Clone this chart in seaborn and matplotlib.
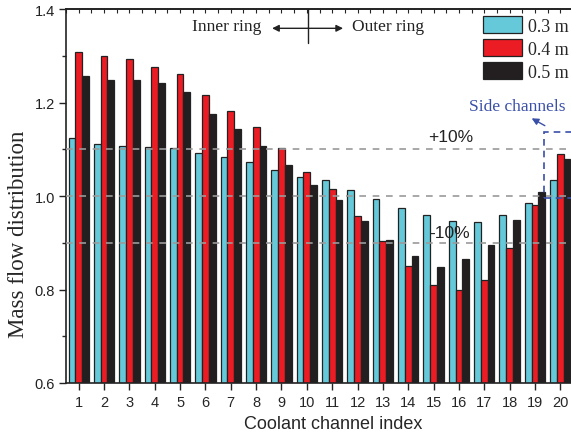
import numpy as np
import pandas as pd
import matplotlib
matplotlib.use("Agg")
import matplotlib.pyplot as plt
from matplotlib.patches import Rectangle
import seaborn as sns

# Channel indices and mass-flow distribution for three lengths
channels = [str(i) for i in range(1, 21)]
lengths = ["0.3 m", "0.4 m", "0.5 m"]
flow_03 = [1.123, 1.112, 1.108, 1.105, 1.103, 1.092, 1.083, 1.072, 1.056, 1.041,
           1.034, 1.013, 0.993, 0.975, 0.960, 0.946, 0.944, 0.960, 0.986, 1.034]
flow_04 = [1.309, 1.299, 1.292, 1.277, 1.260, 1.215, 1.181, 1.148, 1.102, 1.051,
           1.015, 0.957, 0.904, 0.851, 0.809, 0.799, 0.821, 0.889, 0.980, 1.090]
flow_05 = [1.256, 1.248, 1.248, 1.241, 1.223, 1.175, 1.143, 1.107, 1.067, 1.024,
           0.992, 0.946, 0.905, 0.871, 0.848, 0.865, 0.896, 0.948, 1.009, 1.079]
colors = ["#66c9d9", "#ec1c24", "#231f20"]

df = pd.DataFrame({
    "channel": channels * 3,
    "length": np.repeat(lengths, len(channels)),
    "flow": flow_03 + flow_04 + flow_05,
})

sns.set_style("ticks")
plt.rcParams["font.family"] = ["Liberation Sans", "DejaVu Sans"]
serif = ["Liberation Serif", "DejaVu Serif"]

fig = plt.figure(figsize=(5.71, 4.35), dpi=100)
W, H = 571, 435
ax = fig.add_axes([66 / W, 1 - 384 / H, 507 / W, 374 / H])

sns.barplot(data=df, x="channel", y="flow", hue="length", palette=colors,
            saturation=1, edgecolor="#222222", linewidth=0.9, ax=ax, zorder=2)

ax.set_xlim(-0.5, 19.5)
ax.set_ylim(0.6, 1.4)
ax.set_yticks(np.arange(0.6, 1.41, 0.2))
ax.set_yticks(np.arange(0.6, 1.41, 0.1), minor=True)
ax.set_yticklabels([f"{v:.1f}" for v in np.arange(0.6, 1.41, 0.2)])
ax.tick_params(axis="y", which="major", direction="out", length=5, width=1,
               labelsize=10.5, colors="#222222", pad=3)
ax.tick_params(axis="y", which="minor", direction="out", length=3, width=1)
ax.tick_params(axis="x", which="major", direction="out", length=5, width=1,
               labelsize=10.5, pad=4)
for s in ax.spines.values():
    s.set_linewidth(1.2)
    s.set_color("#222222")

# small inward ticks along the top edge
top = ax.secondary_xaxis("top")
top.set_xticks(np.arange(-0.5, 19.6, 0.5))
top.tick_params(direction="in", length=3, width=0.8, labeltop=False)
top.spines["top"].set_linewidth(1.2)

ax.set_xlabel("Coolant channel index", fontsize=13)
ax.set_ylabel("Mass flow distribution", fontsize=16.5, family=serif)
ax.xaxis.set_label_coords(0.527, -0.085)
ax.yaxis.set_label_coords(-0.072, 0.40)

# reference levels (nominal and +/-10 %)
for lvl in (1.1, 1.0, 0.9):
    ax.axhline(lvl, color="#9a9a9a", ls=(0, (4, 4)), lw=1.2, zorder=3)

ax.text(14.69, 1.128, "+10%", fontsize=12.5, ha="center", va="center", color="#222222")
ax.text(14.65, 0.921, "-10%", fontsize=12.5, ha="center", va="center", color="#222222")

# inner / outer ring marker
arrow = dict(arrowstyle="-|>", color="#222222", lw=1, mutation_scale=10,
             shrinkA=0, shrinkB=0)
ax.plot([9.05, 9.05], [1.4, 1.327], color="#222222", lw=1)
ax.annotate("", xy=(7.63, 1.3587), xytext=(9.05, 1.3587), arrowprops=arrow)
ax.annotate("", xy=(10.43, 1.3587), xytext=(9.05, 1.3587), arrowprops=arrow)
ax.text(7.2, 1.3626, "Inner ring", fontsize=12.5, family=serif, ha="right", va="center",
        color="#222222")
ax.text(10.77, 1.3626, "Outer ring", fontsize=12.5, family=serif, ha="left", va="center",
        color="#222222")

# side channel highlight
blue = "#3a4fa8"
ax.add_patch(Rectangle((18.35, 0.9957), 1.6, 0.1412, fill=False, ec=blue, lw=1.2,
                       ls=(0, (4, 3)), clip_on=False, zorder=4))
ax.annotate("", xy=(17.87, 1.1662), xytext=(18.39, 1.1504),
            arrowprops=dict(arrowstyle="-|>", color=blue, lw=1, mutation_scale=10,
                            shrinkA=0, shrinkB=0))
ax.text(17.29, 1.1925, "Side channels", fontsize=12.5, family=serif, ha="center",
        va="center", color=blue)

handles, labels = ax.get_legend_handles_labels()
ax.legend(handles, labels, loc="upper left", bbox_to_anchor=(482.7 / W, 1 - 17 / H),
          bbox_transform=fig.transFigure, frameon=False, prop={"family": serif, "size": 13},
          handlelength=2.2, handleheight=1.05, labelspacing=0.25, handletextpad=0.3,
          borderpad=0, borderaxespad=0)

fig.savefig("out.png", dpi=100)
